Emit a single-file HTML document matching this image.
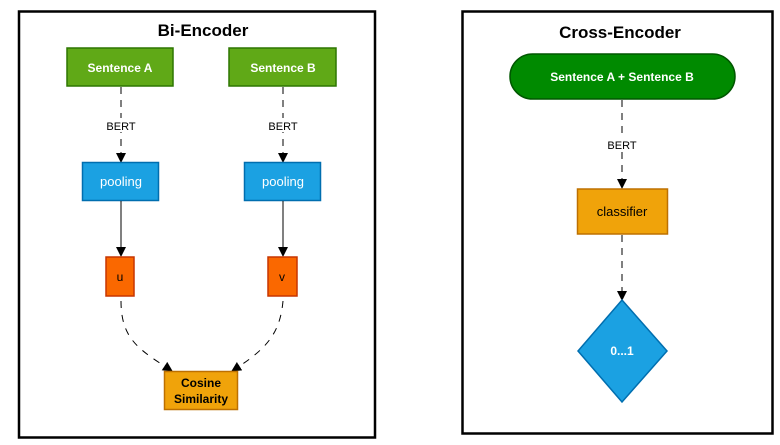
<!DOCTYPE html>
<html><head><meta charset="utf-8"><style>html,body{margin:0;padding:0;background:#fff}svg{display:block}text{font-family:"Liberation Sans",Arial,sans-serif}</style></head>
<body>
<svg width="780" height="445" viewBox="0 0 780 445" xmlns="http://www.w3.org/2000/svg">
<defs>
<marker id="a" viewBox="0 0 10 10" refX="9" refY="5" markerWidth="10" markerHeight="10" markerUnits="userSpaceOnUse" orient="auto"><path d="M0,0 L10,5 L0,10 z" fill="#000"/></marker>
</defs>
<rect width="780" height="445" fill="#fff"/>
<rect x="19" y="11.5" width="356" height="426" fill="#fff" stroke="#000" stroke-width="2.5"/>
<rect x="462.5" y="11.5" width="310" height="422" fill="#fff" stroke="#000" stroke-width="2.5"/>
<text x="203" y="36" font-size="17" font-weight="bold" text-anchor="middle">Bi-Encoder</text>
<text x="620" y="38" font-size="17" font-weight="bold" text-anchor="middle">Cross-Encoder</text>
<rect x="67" y="48" width="106" height="38" fill="#60a917" stroke="#2d7600" stroke-width="1.5"/>
<text x="120" y="72" font-size="12" font-weight="bold" fill="#fff" text-anchor="middle">Sentence A</text>
<rect x="229" y="48" width="107" height="38" fill="#60a917" stroke="#2d7600" stroke-width="1.5"/>
<text x="283" y="72" font-size="12" font-weight="bold" fill="#fff" text-anchor="middle">Sentence B</text>
<line x1="121" y1="87" x2="121" y2="162" stroke="#000" stroke-dasharray="7,6" marker-end="url(#a)"/>
<line x1="283" y1="87" x2="283" y2="162" stroke="#000" stroke-dasharray="7,6" marker-end="url(#a)"/>
<rect x="103" y="118" width="36" height="14" fill="#fff"/>
<rect x="265" y="118" width="36" height="14" fill="#fff"/>
<text x="121" y="130" font-size="11" text-anchor="middle">BERT</text>
<text x="283" y="130" font-size="11" text-anchor="middle">BERT</text>
<rect x="82.5" y="162.5" width="76" height="38" fill="#1ba1e2" stroke="#006eaf" stroke-width="1.5"/>
<text x="121" y="186" font-size="13" fill="#fff" text-anchor="middle">pooling</text>
<rect x="244.5" y="162.5" width="76" height="38" fill="#1ba1e2" stroke="#006eaf" stroke-width="1.5"/>
<text x="283" y="186" font-size="13" fill="#fff" text-anchor="middle">pooling</text>
<line x1="121" y1="201" x2="121" y2="256" stroke="#000" marker-end="url(#a)"/>
<line x1="283" y1="201" x2="283" y2="256" stroke="#000" marker-end="url(#a)"/>
<rect x="106" y="257" width="28" height="39" fill="#fa6800" stroke="#c73500" stroke-width="1.5"/>
<text x="120" y="281" font-size="12" text-anchor="middle">u</text>
<rect x="268" y="257" width="29" height="39" fill="#fa6800" stroke="#c73500" stroke-width="1.5"/>
<text x="282" y="281" font-size="12" text-anchor="middle">v</text>
<path d="M121,301 C121,340 140,350 172,371" fill="none" stroke="#000" stroke-dasharray="7,7" marker-end="url(#a)"/>
<path d="M283,301 C280,335 265,350 232,371" fill="none" stroke="#000" stroke-dasharray="7,7" marker-end="url(#a)"/>
<rect x="164.5" y="371.5" width="73" height="38" fill="#f0a30a" stroke="#bd7000" stroke-width="1.5"/>
<text x="201" y="387" font-size="12" font-weight="bold" text-anchor="middle">Cosine</text>
<text x="201" y="403" font-size="12" font-weight="bold" text-anchor="middle">Similarity</text>
<rect x="510" y="54" width="225" height="45" rx="22.5" fill="#008a00" stroke="#005700" stroke-width="1.5"/>
<text x="622" y="81" font-size="12" font-weight="bold" fill="#fff" text-anchor="middle">Sentence A + Sentence B</text>
<line x1="622" y1="100" x2="622" y2="188" stroke="#000" stroke-dasharray="7,6" marker-end="url(#a)"/>
<rect x="604" y="137" width="36" height="14" fill="#fff"/>
<text x="622" y="149" font-size="11" text-anchor="middle">BERT</text>
<rect x="577.5" y="189" width="90" height="45" fill="#f0a30a" stroke="#bd7000" stroke-width="1.5"/>
<text x="622" y="216" font-size="13" text-anchor="middle">classifier</text>
<line x1="622" y1="235" x2="622" y2="300" stroke="#000" stroke-dasharray="7,6" marker-end="url(#a)"/>
<polygon points="622,300 667,351 622,402 578,351" fill="#1ba1e2" stroke="#006eaf" stroke-width="1.5"/>
<text x="622" y="355" font-size="12" font-weight="bold" fill="#fff" text-anchor="middle">0...1</text>
</svg>
</body></html>
